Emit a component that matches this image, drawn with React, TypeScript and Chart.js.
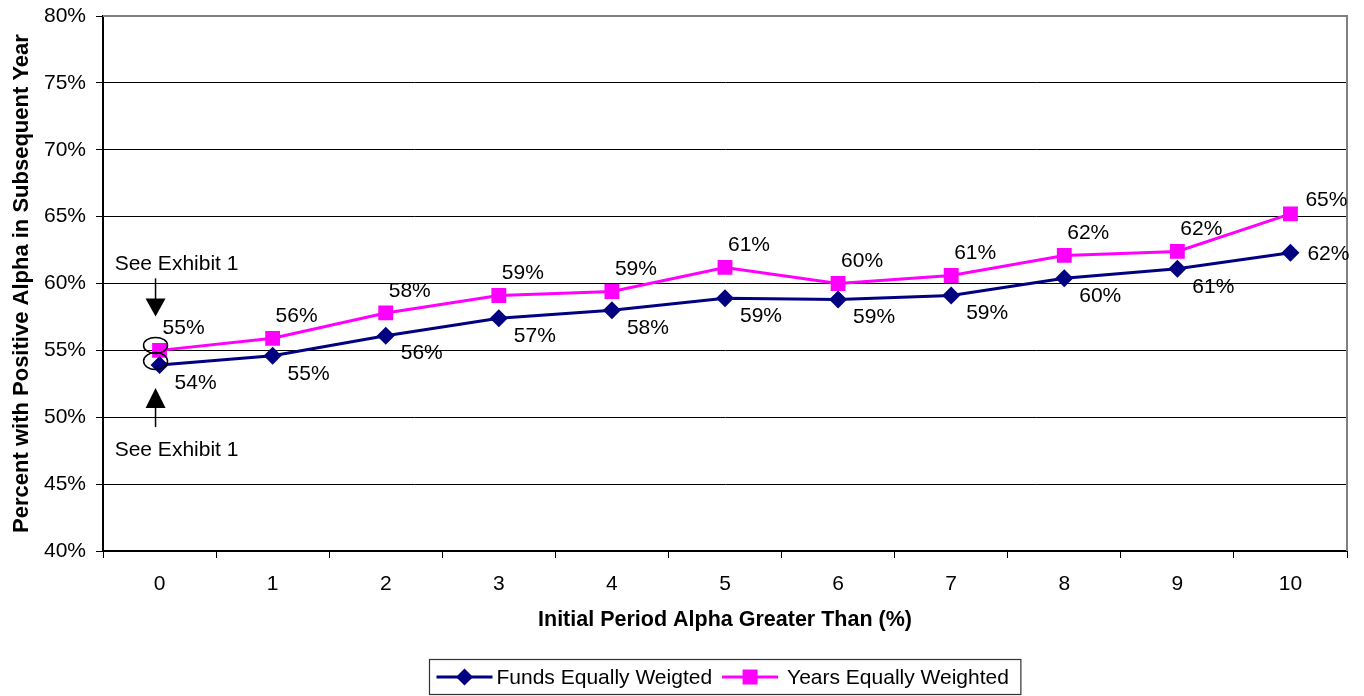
import React, { useEffect, useRef } from "react";
import { Chart, registerables } from "chart.js";

Chart.register(...registerables);

// Initial period alpha thresholds (%)
const categories = ["0", "1", "2", "3", "4", "5", "6", "7", "8", "9", "10"];
// Percent of funds with positive alpha in the subsequent year
const fundsEquallyWeighted = [53.9, 54.6, 56.1, 57.4, 58.0, 58.9, 58.8, 59.1, 60.4, 61.1, 62.3];
const yearsEquallyWeighted = [55.0, 55.9, 57.8, 59.1, 59.4, 61.2, 60.0, 60.6, 62.1, 62.4, 65.2];
const seriesNames = ["Funds Equally Weigted", "Years Equally Weighted"];
const noteText = "See Exhibit 1";

const FONT = "'Liberation Sans', Arial, sans-serif";
const NAVY = "#000080";
const MAGENTA = "#FF00FF";

// Value labels next to each point, plus the "See Exhibit 1" callouts at the first category
const labelsPlugin = {
  id: "pointLabels",
  afterDatasetsDraw(chart: any) {
    const ctx = chart.ctx;
    ctx.save();
    ctx.font = `21px ${FONT}`;
    ctx.fillStyle = "#000";
    ctx.textAlign = "center";
    ctx.textBaseline = "middle";
    chart.data.datasets.forEach((ds: any, di: number) => {
      const meta = chart.getDatasetMeta(di);
      const last = meta.data.length - 1;
      meta.data.forEach((pt: any, i: number) => {
        let dx: number, dy: number;
        if (di === 0) {
          dx = i === last ? 38 : 36;
          dy = i === last ? 1 : 18;
        } else {
          dx = i === last ? 36 : 24;
          dy = i === last ? -14 : -22;
        }
        ctx.fillText(Math.round(ds.data[i]) + "%", pt.x + dx, pt.y + dy);
      });
    });

    // callouts around the first point of each series
    const f0 = chart.getDatasetMeta(0).data[0];
    const y0 = chart.getDatasetMeta(1).data[0];
    ctx.strokeStyle = "#000";
    ctx.lineWidth = 1.5;
    ctx.beginPath();
    ctx.ellipse(y0.x - 4, y0.y - 5, 12, 8, 0, 0, Math.PI * 2);
    ctx.stroke();
    ctx.beginPath();
    ctx.ellipse(f0.x - 4, f0.y - 4, 12, 8.5, 0, 0, Math.PI * 2);
    ctx.stroke();

    const ax = y0.x - 4;
    // downward arrow above
    ctx.lineWidth = 1.5;
    ctx.beginPath();
    ctx.moveTo(ax, y0.y - 72);
    ctx.lineTo(ax, y0.y - 50);
    ctx.stroke();
    ctx.fillStyle = "#000";
    ctx.beginPath();
    ctx.moveTo(ax - 10, y0.y - 52);
    ctx.lineTo(ax + 10, y0.y - 52);
    ctx.lineTo(ax, y0.y - 34);
    ctx.closePath();
    ctx.fill();
    ctx.fillText(noteText, f0.x + 17, y0.y - 86);

    // upward arrow below
    ctx.beginPath();
    ctx.moveTo(ax, f0.y + 62);
    ctx.lineTo(ax, f0.y + 40);
    ctx.stroke();
    ctx.beginPath();
    ctx.moveTo(ax - 10, f0.y + 43);
    ctx.lineTo(ax + 10, f0.y + 43);
    ctx.lineTo(ax, f0.y + 23);
    ctx.closePath();
    ctx.fill();
    ctx.fillText(noteText, f0.x + 17, f0.y + 85);
    ctx.restore();
  },
};

// Grey top/right plot border and the boxed legend under the axis title
const frameLegendPlugin = {
  id: "frameLegend",
  beforeDatasetsDraw(chart: any) {
    const { ctx, chartArea } = chart;
    ctx.save();
    ctx.strokeStyle = "#808080";
    ctx.lineWidth = 2;
    ctx.beginPath();
    ctx.moveTo(chartArea.left, chartArea.top);
    ctx.lineTo(chartArea.right, chartArea.top);
    ctx.lineTo(chartArea.right, chartArea.bottom);
    ctx.stroke();
    ctx.restore();
  },
  afterDraw(chart: any) {
    const { ctx, chartArea } = chart;
    ctx.save();
    ctx.font = `21px ${FONT}`;
    const sample = 56;
    const w1 = ctx.measureText(seriesNames[0]).width;
    const w2 = ctx.measureText(seriesNames[1]).width;
    const total = 7 + sample + 4 + w1 + 10 + sample + 9 + w2 + 12;
    const left = Math.round((chartArea.left + chartArea.right) / 2 - total / 2) + 0.5;
    const top = 659.5;
    const h = 35;
    ctx.fillStyle = "#fff";
    ctx.fillRect(left, top, total, h);
    ctx.strokeStyle = "#333";
    ctx.lineWidth = 1.2;
    ctx.strokeRect(left, top, total, h);
    const cy = top + h / 2;
    const items = [
      { color: NAVY, shape: "diamond", text: seriesNames[0], w: w1 },
      { color: MAGENTA, shape: "square", text: seriesNames[1], w: w2 },
    ];
    let x = left + 7;
    items.forEach((it, idx) => {
      ctx.strokeStyle = it.color;
      ctx.lineWidth = 3;
      ctx.beginPath();
      ctx.moveTo(x, cy);
      ctx.lineTo(x + sample, cy);
      ctx.stroke();
      const mx = x + sample / 2;
      ctx.fillStyle = it.color;
      ctx.beginPath();
      if (it.shape === "diamond") {
        ctx.moveTo(mx - 8.5, cy);
        ctx.lineTo(mx, cy - 8.5);
        ctx.lineTo(mx + 8.5, cy);
        ctx.lineTo(mx, cy + 8.5);
        ctx.closePath();
      } else {
        ctx.rect(mx - 7.5, cy - 7.5, 15, 15);
      }
      ctx.fill();
      x += sample + (idx === 0 ? 4 : 9);
      ctx.fillStyle = "#000";
      ctx.textAlign = "left";
      ctx.textBaseline = "middle";
      ctx.fillText(it.text, x, cy + 1);
      x += it.w + 10;
    });
    ctx.restore();
  },
};

export default function App() {
  const canvasRef = useRef<HTMLCanvasElement | null>(null);

  useEffect(() => {
    document.body.style.margin = "0";
    const canvas = canvasRef.current;
    if (!canvas) return;
    const chart = new Chart(canvas, {
      type: "line",
      data: {
        labels: categories,
        datasets: [
          {
            label: seriesNames[0],
            data: fundsEquallyWeighted,
            borderColor: NAVY,
            backgroundColor: NAVY,
            borderWidth: 3,
            pointStyle: "rectRot",
            pointRadius: 9,
            pointHoverRadius: 9,
            pointBorderWidth: 0,
            tension: 0,
          },
          {
            label: seriesNames[1],
            data: yearsEquallyWeighted,
            borderColor: MAGENTA,
            backgroundColor: MAGENTA,
            borderWidth: 3,
            pointStyle: "rect",
            pointRadius: 10.5,
            pointHoverRadius: 10.5,
            pointBorderWidth: 0,
            tension: 0,
          },
        ],
      },
      options: {
        responsive: false,
        animation: false,
        layout: { padding: { left: 0, right: 17, top: 16, bottom: 0 } },
        plugins: {
          legend: { display: false },
          tooltip: { enabled: false },
        },
        scales: {
          x: {
            type: "category",
            offset: true,
            grid: {
              offset: true,
              drawOnChartArea: false,
              drawTicks: true,
              tickLength: 7,
              color: "#000",
              lineWidth: 1,
            },
            border: { display: true, color: "#000", width: 2 },
            ticks: {
              color: "#000",
              font: { family: FONT, size: 21 },
              padding: 14,
              maxRotation: 0,
            },
            title: {
              display: true,
              text: "Initial Period Alpha Greater Than (%)",
              color: "#000",
              font: { family: FONT, size: 21.5, weight: "bold" },
              padding: { top: 0, bottom: 63 },
            },
            afterFit: (scale: any) => {
              scale.height = 145;
            },
          },
          y: {
            min: 40,
            max: 80,
            grid: {
              color: (c: any) => (c.tick && c.tick.value === 80 ? "rgba(0,0,0,0)" : "#000"),
              tickColor: "#000",
              lineWidth: 1,
              tickLength: 7,
            },
            border: { display: true, color: "#000", width: 2 },
            ticks: {
              stepSize: 5,
              color: "#000",
              font: { family: FONT, size: 21 },
              padding: 10,
              callback: (v: any) => v + "%",
            },
            title: {
              display: true,
              text: "Percent with Positive Alpha in Subsequent Year",
              color: "#000",
              font: { family: FONT, size: 22, weight: "bold" },
              padding: { top: 9, bottom: 0 },
            },
            afterFit: (scale: any) => {
              scale.width = 103;
              scale.paddingTop = 0;
              scale.paddingBottom = 0;
            },
          },
        },
      },
      plugins: [frameLegendPlugin, labelsPlugin],
    });
    return () => chart.destroy();
  }, []);

  return (
    <div style={{ position: "absolute", left: 0, top: 0, width: 1364, height: 696, background: "#fff" }}>
      <canvas ref={canvasRef} width={1364} height={696} />
    </div>
  );
}
